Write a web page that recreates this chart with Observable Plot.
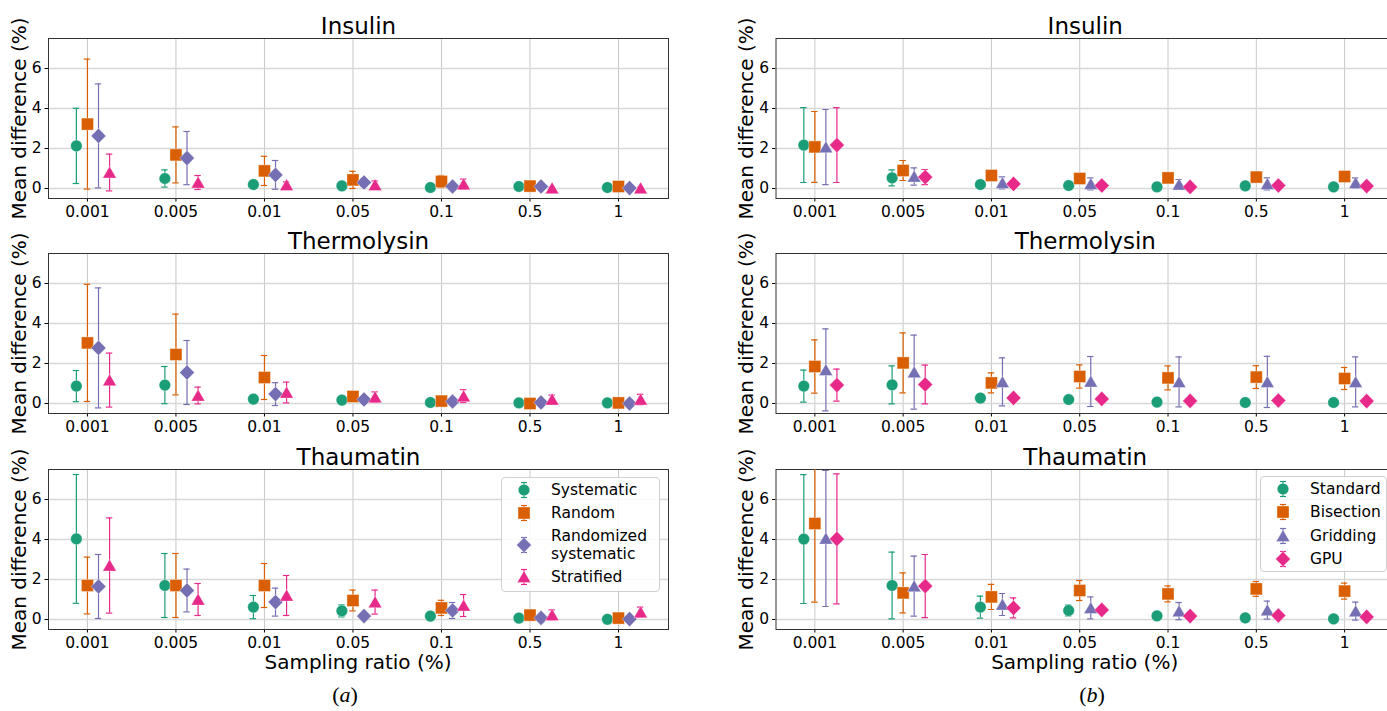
<!DOCTYPE html>
<html>
<head>
<meta charset="utf-8">
<script src="https://cdn.jsdelivr.net/npm/d3@7"></script>
<script src="https://cdn.jsdelivr.net/npm/@observablehq/plot@0.6"></script>
<style>
html, body { margin: 0; padding: 0; background: #fff; overflow: hidden; }
#fig { position: relative; width: 1387px; height: 711px; overflow: hidden; font-family: "DejaVu Sans", sans-serif; color: #000; }
.panel { position: absolute; }
.legend { position: absolute; border: 1px solid #d0d0d0; border-radius: 4px; background: rgba(255,255,255,0.85); box-sizing: border-box; font-size: 15.5px; }
.lglyph { position: absolute; }
.ltext { position: absolute; line-height: 18px; white-space: nowrap; }
.xlabel { position: absolute; font-size: 20px; line-height: 18px; white-space: nowrap; transform: translateX(-50%); }
.sub { position: absolute; font-family: "Liberation Serif", "DejaVu Serif", serif; font-size: 22px; line-height: 22px; transform: translateX(-50%); }
</style>
</head>
<body>
<div id="fig"></div>
<script>
// ---------------- data ----------------
const ratioLabels = ["0.001", "0.005", "0.01", "0.05", "0.1", "0.5", "1"];
const proteins = ["Insulin", "Thermolysin", "Thaumatin"];
const samplingMethods = ["Systematic", "Random", "Randomized systematic", "Stratified"];
const integrationMethods = ["Standard", "Bisection", "Gridding", "GPU"];
const yTicks = [0, 2, 4, 6];

// (a) sampling strategies — rows: Systematic, Random, Randomized systematic, Stratified
const insulinSamplingMean = [
  [2.13, 0.50, 0.20, 0.13, 0.05, 0.10, 0.05],
  [3.22, 1.68, 0.88, 0.43, 0.35, 0.12, 0.10],
  [2.63, 1.52, 0.68, 0.30, 0.10, 0.10, 0.02],
  [0.80, 0.30, 0.18, 0.18, 0.22, 0.02, 0.02]
];
const insulinSamplingErr = [
  [1.88, 0.43, 0.08, 0.05, 0.05, 0.05, 0.04],
  [3.25, 1.40, 0.73, 0.43, 0.30, 0.08, 0.08],
  [2.60, 1.33, 0.72, 0.20, 0.10, 0.08, 0.05],
  [0.92, 0.35, 0.15, 0.20, 0.25, 0.05, 0.05]
];
const thermolysinSamplingMean = [
  [0.87, 0.92, 0.22, 0.17, 0.05, 0.03, 0.03],
  [3.03, 2.45, 1.30, 0.35, 0.12, 0.00, 0.03],
  [2.78, 1.55, 0.47, 0.20, 0.10, 0.05, 0.00],
  [1.17, 0.40, 0.55, 0.32, 0.37, 0.20, 0.20]
];
const thermolysinSamplingErr = [
  [0.78, 0.93, 0.10, 0.05, 0.04, 0.03, 0.03],
  [2.93, 2.02, 1.10, 0.15, 0.08, 0.05, 0.05],
  [3.00, 1.60, 0.57, 0.10, 0.08, 0.05, 0.03],
  [1.35, 0.42, 0.52, 0.26, 0.32, 0.22, 0.26]
];
const thaumatinSamplingMean = [
  [4.03, 1.70, 0.62, 0.43, 0.17, 0.07, 0.01],
  [1.70, 1.70, 1.70, 0.95, 0.58, 0.22, 0.07],
  [1.65, 1.45, 0.87, 0.17, 0.45, 0.08, 0.02],
  [2.70, 1.00, 1.20, 0.87, 0.70, 0.23, 0.37]
];
const thaumatinSamplingErr = [
  [3.22, 1.60, 0.58, 0.30, 0.06, 0.05, 0.03],
  [1.42, 1.60, 1.10, 0.52, 0.38, 0.08, 0.06],
  [1.60, 1.07, 0.70, 0.08, 0.40, 0.05, 0.03],
  [2.38, 0.80, 1.00, 0.60, 0.55, 0.25, 0.25]
];

// (b) integration methods — rows: Standard, Bisection, Gridding, GPU
const insulinMethodMean = [
  [2.17, 0.53, 0.20, 0.15, 0.08, 0.13, 0.08],
  [2.08, 0.90, 0.65, 0.50, 0.53, 0.57, 0.60],
  [2.07, 0.60, 0.28, 0.23, 0.20, 0.23, 0.28],
  [2.17, 0.57, 0.23, 0.15, 0.08, 0.15, 0.12]
];
const insulinMethodErr = [
  [1.87, 0.40, 0.05, 0.04, 0.04, 0.04, 0.04],
  [1.77, 0.50, 0.10, 0.08, 0.08, 0.08, 0.08],
  [1.88, 0.43, 0.30, 0.30, 0.25, 0.30, 0.25],
  [1.87, 0.38, 0.05, 0.04, 0.04, 0.04, 0.04]
];
const thermolysinMethodMean = [
  [0.87, 0.93, 0.27, 0.20, 0.07, 0.05, 0.05],
  [1.85, 2.03, 1.03, 1.35, 1.28, 1.32, 1.25],
  [1.68, 1.57, 1.08, 1.10, 1.08, 1.08, 1.08],
  [0.92, 0.95, 0.28, 0.23, 0.13, 0.15, 0.12]
];
const thermolysinMethodErr = [
  [0.80, 0.95, 0.05, 0.04, 0.03, 0.03, 0.03],
  [1.33, 1.50, 0.50, 0.58, 0.60, 0.57, 0.55],
  [2.05, 1.85, 1.20, 1.25, 1.25, 1.28, 1.25],
  [0.80, 0.97, 0.05, 0.04, 0.04, 0.04, 0.04]
];
const thaumatinMethodMean = [
  [4.02, 1.70, 0.62, 0.45, 0.18, 0.08, 0.03],
  [4.80, 1.33, 1.13, 1.45, 1.28, 1.53, 1.42],
  [4.05, 1.67, 0.75, 0.58, 0.42, 0.47, 0.42],
  [4.03, 1.67, 0.58, 0.48, 0.17, 0.20, 0.13]
];
const thaumatinMethodErr = [
  [3.22, 1.67, 0.55, 0.27, 0.05, 0.04, 0.03],
  [3.93, 1.00, 0.63, 0.50, 0.40, 0.37, 0.40],
  [3.40, 1.50, 0.55, 0.55, 0.43, 0.45, 0.45],
  [3.25, 1.58, 0.50, 0.08, 0.05, 0.05, 0.05]
];

// ---------------- style ----------------
const seriesColors = ["#1b9e77", "#d95f02", "#7570b3", "#e7298a"];
const groupOffsets = [-0.125, 0, 0.125, 0.25];
const capHalf = 0.036;

const symCircle = {draw(c) { c.moveTo(5.8, 0); c.arc(0, 0, 5.8, 0, 2 * Math.PI); c.closePath(); }};
const symSquare = {draw(c) { c.moveTo(-6, -6); c.lineTo(6, -6); c.lineTo(6, 6); c.lineTo(-6, 6); c.closePath(); }};
const symDiamond = {draw(c) { c.moveTo(0, -7.6); c.lineTo(7.4, 0); c.lineTo(0, 7.6); c.lineTo(-7.4, 0); c.closePath(); }};
const symTriangle = {draw(c) { c.moveTo(0, -6.2); c.lineTo(6.8, 5.6); c.lineTo(-6.8, 5.6); c.closePath(); }};

const FRAME_TOP = [37.5, 253.2, 468.9];
const MT = 38, PH = 160, MB = 22;

const columns = [
  {left: 0, width: 690, ml: 48, mr: 22, methods: samplingMethods,
   symbols: [symCircle, symSquare, symDiamond, symTriangle],
   means: [insulinSamplingMean, thermolysinSamplingMean, thaumatinSamplingMean],
   errs: [insulinSamplingErr, thermolysinSamplingErr, thaumatinSamplingErr]},
  {left: 700, width: 720, ml: 75.5, mr: 26, methods: integrationMethods,
   symbols: [symCircle, symSquare, symTriangle, symDiamond],
   means: [insulinMethodMean, thermolysinMethodMean, thaumatinMethodMean],
   errs: [insulinMethodErr, thermolysinMethodErr, thaumatinMethodErr]}
];

const fig = document.getElementById("fig");

columns.forEach((col, ci) => {
  proteins.forEach((prot, r) => {
    const rows = [];
    col.methods.forEach((m, k) => {
      col.means[r][k].forEach((v, i) => {
        const e = col.errs[r][k][i];
        rows.push({k, method: m, ratio: ratioLabels[i], x: i + groupOffsets[k], mean: v, lo: v - e, hi: v + e});
      });
    });
    const marks = [
      Plot.ruleX(d3.range(ratioLabels.length), {stroke: "#c8c8c8", strokeWidth: 1}),
      Plot.ruleY(yTicks, {stroke: "#d8d8d8", strokeWidth: 1.6}),
      Plot.frame({stroke: "#333", strokeWidth: 1}),
      Plot.text([prot], {text: d => d, frameAnchor: "top", dy: -5, lineAnchor: "bottom", fontSize: 23}),
      Plot.text(["Mean difference (%)"], {text: d => d, frameAnchor: "left", rotate: -90, dx: -23, lineAnchor: "bottom", textAnchor: "middle", fontSize: 20})
    ];
    col.methods.forEach((m, k) => {
      const sub = rows.filter(d => d.k === k);
      const c = seriesColors[k];
      marks.push(
        Plot.ruleX(sub, {x: "x", y1: "lo", y2: "hi", stroke: c, strokeWidth: 1.2, clip: true}),
        Plot.ruleY(sub, {y: "hi", x1: d => d.x - capHalf, x2: d => d.x + capHalf, stroke: c, strokeWidth: 1.2, clip: true}),
        Plot.ruleY(sub, {y: "lo", x1: d => d.x - capHalf, x2: d => d.x + capHalf, stroke: c, strokeWidth: 1.2, clip: true}),
        Plot.dot(sub, {x: "x", y: "mean", symbol: col.symbols[k], r: 6, fill: c, stroke: "#fff", strokeOpacity: 0.35, strokeWidth: 1})
      );
    });
    const svg = Plot.plot({
      width: col.width,
      height: MT + PH + MB,
      marginTop: MT, marginBottom: MB, marginLeft: col.ml, marginRight: col.mr,
      x: {domain: [-0.44, 6.565], ticks: d3.range(ratioLabels.length), tickFormat: i => ratioLabels[i], tickSize: 3.5, tickPadding: 4, label: null},
      y: {domain: [-0.5, 7.5], ticks: yTicks, tickSize: 3.5, tickPadding: 3.5, label: null},
      style: {fontFamily: "DejaVu Sans", fontSize: "15.5px", color: "#000", background: "transparent", overflow: "visible"},
      marks
    });
    svg.classList.add("panel");
    svg.style.left = col.left + "px";
    svg.style.top = (FRAME_TOP[r] - MT) + "px";
    fig.appendChild(svg);
  });
});

// ---------------- legends ----------------
function glyph(sym, color) {
  const w = 26, h = 26, cx = 13, cy = 13;
  const p = d3.path(); sym.draw(p);
  const ns = "http://www.w3.org/2000/svg";
  const s = document.createElementNS(ns, "svg");
  s.setAttribute("width", w); s.setAttribute("height", h);
  s.innerHTML =
    `<line x1="${cx}" x2="${cx}" y1="${cy - 7.5}" y2="${cy + 7.5}" stroke="${color}" stroke-width="1.2"/>` +
    `<line x1="${cx - 3}" x2="${cx + 3}" y1="${cy - 7.5}" y2="${cy - 7.5}" stroke="${color}" stroke-width="1.2"/>` +
    `<line x1="${cx - 3}" x2="${cx + 3}" y1="${cy + 7.5}" y2="${cy + 7.5}" stroke="${color}" stroke-width="1.2"/>` +
    `<path transform="translate(${cx},${cy})" d="${p.toString()}" fill="${color}" stroke="#fff" stroke-opacity="0.35"/>`;
  return s;
}
function makeLegend(box, labels, syms, rowCenters) {
  const lg = document.createElement("div");
  lg.className = "legend";
  Object.assign(lg.style, {left: box.x + "px", top: box.y + "px", width: box.w + "px", height: box.h + "px"});
  labels.forEach((lab, k) => {
    const g = glyph(syms[k], seriesColors[k]);
    g.classList.add("lglyph");
    g.style.left = (23 - 13 - 1) + "px";
    g.style.top = (rowCenters[k] - 13 - 1) + "px";
    lg.appendChild(g);
    const t = document.createElement("div");
    t.className = "ltext";
    const lines = lab === "Randomized systematic" ? ["Randomized", "systematic"] : [lab];
    t.innerHTML = lines.join("<br>");
    t.style.left = (50 - 1) + "px";
    t.style.top = (rowCenters[k] - 9 * lines.length - 1) + "px";
    lg.appendChild(t);
  });
  fig.appendChild(lg);
}
makeLegend({x: 501, y: 476.7, w: 159, h: 115}, samplingMethods, columns[0].symbols, [13.3, 36.3, 68.3, 100.3]);
makeLegend({x: 1260, y: 475.7, w: 126.5, h: 96.5}, integrationMethods, columns[1].symbols, [13.3, 36.6, 60.3, 83.3]);

// ---------------- shared labels ----------------
function addDiv(cls, html, x, y) {
  const d = document.createElement("div");
  d.className = cls; d.innerHTML = html;
  d.style.left = x + "px"; d.style.top = y + "px";
  fig.appendChild(d);
}
addDiv("xlabel", "Sampling ratio (%)", 358, 653);
addDiv("xlabel", "Sampling ratio (%)", 1084.7, 653);
addDiv("sub", "(<i>a</i>)", 345, 684);
addDiv("sub", "(<i>b</i>)", 1092, 684);
</script>
</body>
</html>
